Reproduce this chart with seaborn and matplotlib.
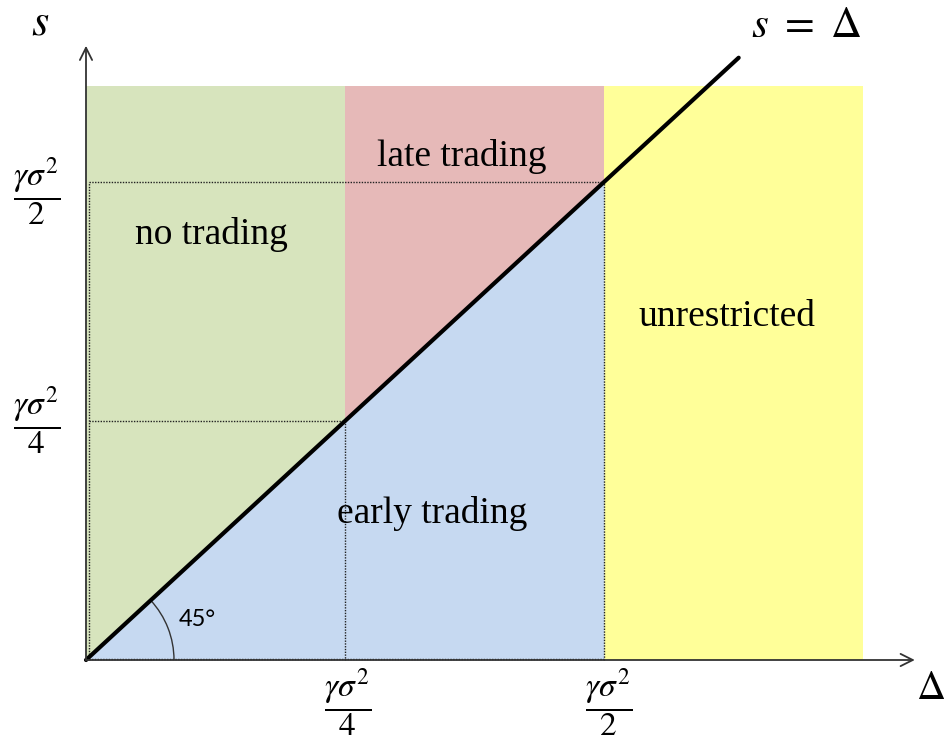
import numpy as np
import matplotlib
matplotlib.use('Agg')
import matplotlib.pyplot as plt
from matplotlib.patches import Arc
import seaborn as sns

# region boundaries in units of gamma*sigma^2/4
quarter = 1.0          # gamma sigma^2 / 4
half = 2.0             # gamma sigma^2 / 2
region_top = 2.4
unrestricted_right = 3.0
diag_end = 2.52
x_axis_end = 3.2
y_axis_end = 2.57

region_names = ['no trading', 'late trading', 'unrestricted', 'early trading']
region_x = [0.486, 1.452, 2.475, 1.336]
region_y = [1.78, 2.105, 1.435, 0.615]

colors = {'green': '#D7E4BD', 'red': '#E6B9B8', 'blue': '#C6D9F1', 'yellow': '#FFFF99'}

sns.set_style('white')
plt.rcParams['mathtext.fontset'] = 'stix'
plt.rcParams['text.color'] = 'black'

fig = plt.figure(figsize=(9.44, 7.44), dpi=100)
ax = fig.add_axes([0, 0, 1, 1])
ax.set_xlim(-86 / 259, (944 - 86) / 259)
ax.set_ylim(-84 / 239, 660 / 239)
ax.axis('off')

# shaded regions
ax.fill_between([0, quarter], 0, region_top, color=colors['green'], lw=0)
ax.fill_between([quarter, half], 0, region_top, color=colors['red'], lw=0)
ax.fill_between([half, unrestricted_right], 0, region_top, color=colors['yellow'], lw=0)
ax.fill_between([0, half], [0, 0], [0, half], color=colors['blue'], lw=0)

# dotted guides
dot = dict(color='#222222', lw=1.0, ls=(0, (1, 1)))
ax.plot([0.01, half, half], [half, half, 0], **dot)
ax.plot([0.01, quarter, quarter], [quarter, quarter, 0], **dot)
ax.plot([0.01, 0.01], [0, half], **dot)
ax.plot([0, half], [0.005, 0.005], **dot)

# s = Delta line
sns.lineplot(x=[0, diag_end], y=[0, diag_end], color='black', lw=3, ax=ax)

# axes with arrows
arrow = dict(arrowstyle='->', lw=1.3, color='#333333', mutation_scale=22,
             shrinkA=0, shrinkB=0)
ax.annotate('', xy=(x_axis_end, 0), xytext=(0, 0), arrowprops=arrow)
ax.annotate('', xy=(0, y_axis_end), xytext=(0, 0), arrowprops=arrow)

# 45 degree arc
ax.add_patch(Arc((0, 0), 2 * 88 / 259, 2 * 88 / 239, theta1=0, theta2=45,
                 color='#333333', lw=1.0))
ax.text(0.43, 0.17, '45°', fontsize=17, family='Lato', ha='center', va='center')

# region labels
for name, x, y in zip(region_names, region_x, region_y):
    ax.text(x, y, name, fontsize=27, family='Liberation Serif',
            ha='center', va='center')

# tick fractions
frac2 = r'$\dfrac{\gamma\sigma^2}{2}$'
frac4 = r'$\dfrac{\gamma\sigma^2}{4}$'
ax.text(-0.189, 1.96, frac2, fontsize=24, ha='center', va='center')
ax.text(-0.189, 1.0, frac4, fontsize=24, ha='center', va='center')
ax.text(1.01, -0.18, frac4, fontsize=24, ha='center', va='center')
ax.text(2.02, -0.18, frac2, fontsize=24, ha='center', va='center')

# axis labels
ax.text(-0.178, 2.67, r'$s$', fontsize=32, ha='center', va='center')
ax.text(3.262, -0.117, r'$\Delta$', fontsize=29, ha='center', va='center')
ax.text(2.78, 2.657, r'$s\ =\ \Delta$', fontsize=31, ha='center', va='center')

fig.savefig('out.png', dpi=100)
